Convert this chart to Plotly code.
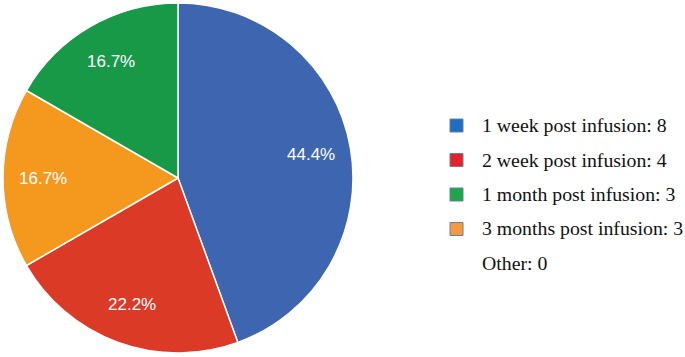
import math
import plotly.graph_objects as go

labels = ["1 week post infusion", "2 week post infusion", "3 months post infusion", "1 month post infusion"]
values = [8, 4, 3, 3]
colors = ["#3E66B0", "#DB3A27", "#F4991E", "#179947"]

legend_labels = ["1 week post infusion", "2 week post infusion", "1 month post infusion", "3 months post infusion", "Other"]
legend_values = [8, 4, 3, 3, 0]
legend_colors = ["#1F6FC0", "#E3222B", "#1FA54A", "#F59A3E", None]

W, H = 685, 357
cx, cy, R = 178, 178, 175

fig = go.Figure()
fig.add_trace(go.Pie(
    labels=labels, values=values, sort=False, direction="clockwise", rotation=0,
    marker=dict(colors=colors, line=dict(color="white", width=1.5)),
    textinfo="none",
    domain=dict(x=[(cx-R)/W, (cx+R)/W], y=[1-(cy+R)/H, 1-(cy-R)/H]),
    showlegend=False, hoverinfo="label+value+percent",
))

shapes = []
annotations = []

# percentage labels placed at 0.77 of the radius along each slice's mid-angle
total = sum(values)
cum = 0
for v in values:
    mid = (cum + v / 2) / total * 2 * math.pi
    cum += v
    r = 0.77 * R
    px = cx + r * math.sin(mid)
    py = cy - r * math.cos(mid)
    annotations.append(dict(xref="paper", yref="paper", x=px/W, y=1-py/H,
                            xanchor="center", yanchor="middle", showarrow=False,
                            text=f"{v/total*100:.1f}%",
                            font=dict(family="Liberation Sans, Arial", size=17, color="white")))

y0 = 125
step = 34.5
for i, (lab, val, col) in enumerate(zip(legend_labels, legend_values, legend_colors)):
    yc = y0 + i * step
    if col is not None:
        shapes.append(dict(type="rect", xref="paper", yref="paper",
                           x0=450/W, x1=463/W, y0=1-(yc+7)/H, y1=1-(yc-6)/H,
                           fillcolor=col, line=dict(color="#6A7FA8", width=1)))
    annotations.append(dict(xref="paper", yref="paper", x=480/W, y=1-yc/H,
                            xanchor="left", yanchor="middle", showarrow=False,
                            text=f"{lab}: {val}",
                            font=dict(family="Liberation Serif, Times New Roman", size=19.8, color="#111111")))

fig.update_layout(width=W, height=H, margin=dict(l=0, r=0, t=0, b=0),
                  paper_bgcolor="white", plot_bgcolor="white",
                  shapes=shapes, annotations=annotations)
fig.write_html("out.html", config={"displayModeBar": False},
               post_script="document.body.style.margin='0';document.body.style.overflow='hidden';")
